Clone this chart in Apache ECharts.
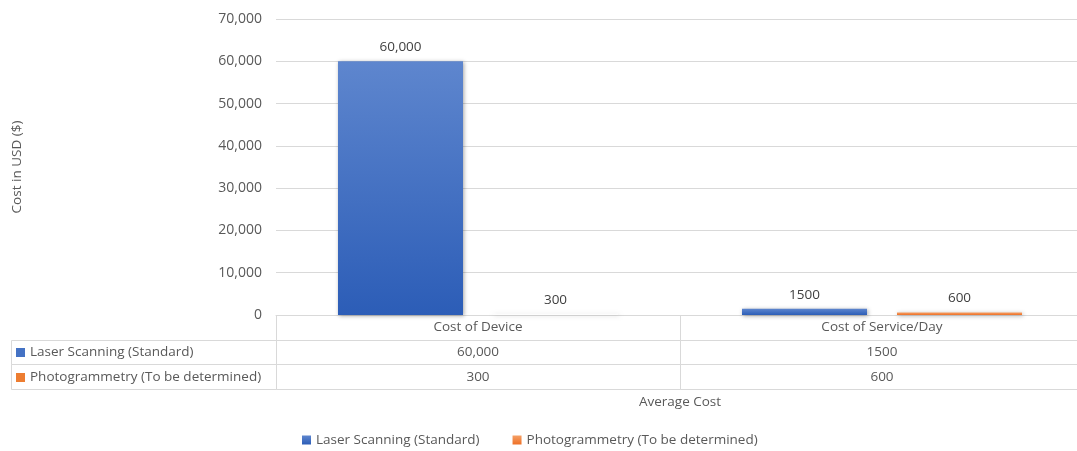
<!DOCTYPE html>
<html>
<head>
<meta charset="utf-8">
<title>Average Cost</title>
<script src="https://cdn.jsdelivr.net/npm/echarts@6/dist/echarts.min.js"></script>
<style>
  html, body { margin: 0; padding: 0; background: #fff; }
  #chart { width: 1077px; height: 451px; }
</style>
</head>
<body>
<div id="chart"></div>
<script>
// ---- data ----
const categories = ['Cost of Device', 'Cost of Service/Day'];
const seriesNames = ['Laser Scanning (Standard)', 'Photogrammetry (To be determined)'];
const laserValues = [60000, 1500];
const photoValues = [300, 600];
// number format used for each category in labels and table ('grouped' = thousands separator)
const categoryFormats = ['grouped', 'plain'];
const yTicks = [0, 10000, 20000, 30000, 40000, 50000, 60000, 70000];

// ---- styling ----
const FONT = 'Open Sans';
const FS = 13.5;
const TEXT = '#595959';
const LINE = '#d9d9d9';
const swatchColors = ['#4472C4', '#ED7D31'];
const barGradients = [
  ['#5E86CE', '#2C5DB7'],
  ['#F5A066', '#EE7026']
];
const PLOT_LEFT = 276, PLOT_TOP = 19, PLOT_BOTTOM = 136, PLOT_WIDTH = 808;
const TABLE_LEFT = 11, ROW_H = 24.7;

function fmt(v, c) {
  return categoryFormats[c] === 'grouped' ? v.toLocaleString('en-US') : String(v);
}
function gradient(pair) {
  return new echarts.graphic.LinearGradient(0, 0, 0, 1, [
    { offset: 0, color: pair[0] }, { offset: 1, color: pair[1] }
  ]);
}
const shadow = { shadowBlur: 4, shadowOffsetX: 1, shadowOffsetY: 1, shadowColor: 'rgba(0,0,0,0.35)' };

const allValues = [laserValues, photoValues];
// the device-cost photogrammetry bar is drawn without fill colour
const unfilled = { 1: [0] };

const barSeries = allValues.map((vals, s) => ({
  name: seriesNames[s],
  type: 'bar',
  xAxisIndex: 0, yAxisIndex: 0,
  barWidth: 125,
  barGap: '24%',
  itemStyle: Object.assign({ color: gradient(barGradients[s]) }, shadow),
  label: {
    show: true, position: 'top', distance: 7,
    fontFamily: FONT, fontSize: FS, color: '#404040',
    formatter: p => fmt(p.value, p.dataIndex)
  },
  data: vals.map((v, c) => (unfilled[s] && unfilled[s].includes(c))
    ? { value: v, itemStyle: Object.assign({ color: '#fdfdfd' }, shadow, { shadowColor: 'rgba(0,0,0,0.18)' }) }
    : v)
}));

// table cells: [column, row]; row 0 is the header, rows 1.. are series
const tableRows = ['header'].concat(seriesNames);
const cells = [];
tableRows.forEach((_, r) => categories.forEach((__, c) => cells.push([c, r])));

function crisp(v) { return Math.round(v) + 0.5; }

const tableSeries = {
  type: 'custom',
  xAxisIndex: 1, yAxisIndex: 1,
  silent: true,
  clip: false,
  data: cells,
  renderItem(params, api) {
    const c = api.value(0), r = api.value(1);
    const ctr = api.coord([c, r]);
    const sz = api.size([1, 1]);
    const x0 = crisp(ctr[0] - sz[0] / 2), x1 = crisp(ctr[0] + sz[0] / 2);
    const y0 = crisp(ctr[1] - sz[1] / 2), y1 = crisp(ctr[1] + sz[1] / 2);
    const text = r === 0 ? categories[c] : fmt(allValues[r - 1][c], c);
    const font = FS + 'px "' + FONT + '"';
    const children = [
      { type: 'rect', shape: { x: x0, y: y0, width: x1 - x0, height: y1 - y0 },
        style: { fill: 'none', stroke: LINE, lineWidth: 1 } },
      { type: 'text', x: ctr[0], y: ctr[1],
        style: { text, fill: TEXT, font, align: 'center', verticalAlign: 'middle' } }
    ];
    if (c === 0 && r > 0) {
      const lx = crisp(TABLE_LEFT);
      children.push(
        { type: 'rect', shape: { x: lx, y: y0, width: x0 - lx, height: y1 - y0 },
          style: { fill: 'none', stroke: LINE, lineWidth: 1 } },
        { type: 'rect', shape: { x: TABLE_LEFT + 5, y: Math.round(ctr[1]) - 4, width: 9, height: 9 },
          style: { fill: swatchColors[r - 1] } },
        { type: 'text', x: TABLE_LEFT + 19, y: ctr[1],
          style: { text: seriesNames[r - 1], fill: TEXT, font, align: 'left', verticalAlign: 'middle' } }
      );
    }
    return { type: 'group', children };
  }
};

const chart = echarts.init(document.getElementById('chart'), null, { renderer: 'canvas' });
chart.setOption({
  animation: false,
  textStyle: { fontFamily: FONT },
  color: swatchColors,
  grid: [
    { left: PLOT_LEFT, width: PLOT_WIDTH, top: PLOT_TOP, bottom: PLOT_BOTTOM, outerBoundsMode: 'none', containLabel: false },
    { left: PLOT_LEFT, width: PLOT_WIDTH, top: 451 - PLOT_BOTTOM, height: ROW_H * tableRows.length, outerBoundsMode: 'none', containLabel: false }
  ],
  xAxis: [
    {
      type: 'category', gridIndex: 0, data: categories,
      axisLine: { show: true, lineStyle: { color: LINE } },
      axisTick: { show: false }, axisLabel: { show: false },
      name: 'Average Cost', nameLocation: 'middle', nameGap: 80,
      nameTextStyle: { fontFamily: FONT, fontSize: FS, color: TEXT }
    },
    {
      type: 'category', gridIndex: 1, data: categories, show: false
    }
  ],
  yAxis: [
    {
      type: 'value', gridIndex: 0, min: yTicks[0], max: yTicks[yTicks.length - 1],
      interval: yTicks[1] - yTicks[0],
      axisLine: { show: false }, axisTick: { show: false },
      splitLine: { lineStyle: { color: LINE, width: 1 } },
      axisLabel: {
        fontFamily: FONT, fontSize: 14, color: TEXT, margin: 14,
        formatter: v => v.toLocaleString('en-US')
      },
      name: 'Cost in USD ($)', nameLocation: 'middle', nameGap: 252, nameRotate: 90,
      nameTextStyle: { fontFamily: FONT, fontSize: FS, color: TEXT }
    },
    {
      type: 'category', gridIndex: 1, data: tableRows, inverse: true, show: false
    }
  ],
  legend: {
    data: seriesNames, top: 433, left: 302, padding: 0,
    icon: 'rect', itemWidth: 9, itemHeight: 9, itemGap: 33,
    textStyle: { fontFamily: FONT, fontSize: FS, color: TEXT },
    itemStyle: { shadowBlur: 0, shadowOffsetX: 0, shadowOffsetY: 0 }
  },
  series: barSeries.concat([tableSeries])
});
</script>
</body>
</html>
